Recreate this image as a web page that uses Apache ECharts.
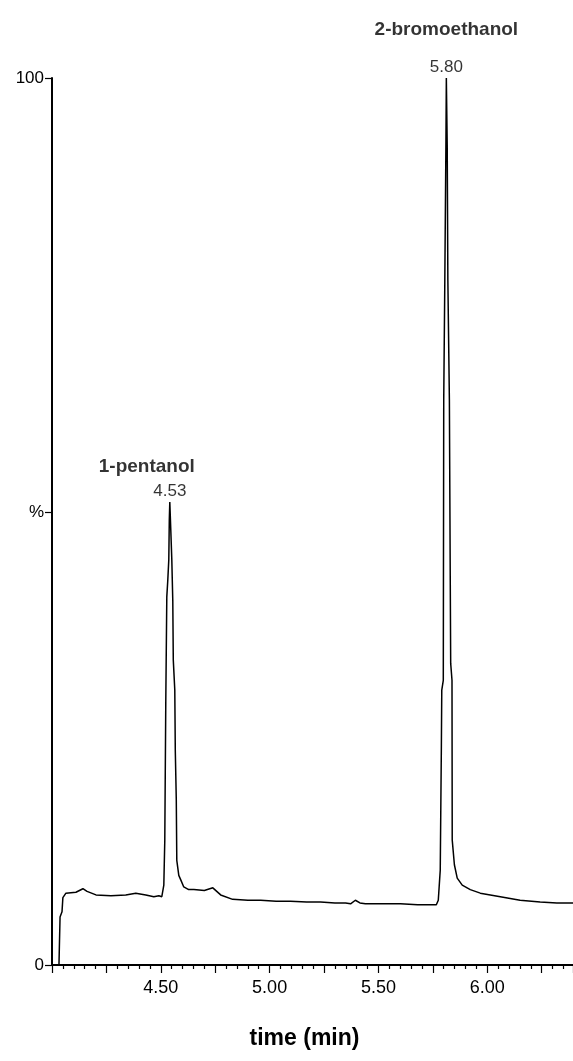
<!DOCTYPE html>
<html>
<head>
<meta charset="utf-8">
<script src="https://cdn.jsdelivr.net/npm/echarts@6/dist/echarts.min.js"></script>
<style>
html,body{margin:0;padding:0;background:#fff;}
#chart{width:573px;height:1061px;}
</style>
</head>
<body>
<div id="chart"></div>
<script>
// Retention time (min) and relative intensity (%) of the chromatogram trace
const times = [
  4.005, 4.032, 4.037, 4.046, 4.050, 4.064, 4.110, 4.142, 4.161, 4.202,
  4.271, 4.339, 4.385, 4.431, 4.468, 4.491, 4.5046, 4.5138, 4.5183, 4.5229,
  4.5275, 4.5321, 4.5367, 4.5390, 4.5413, 4.5459, 4.5505, 4.5550, 4.5573, 4.5642,
  4.5665, 4.5711, 4.5734, 4.5826, 4.5917, 4.6055, 4.6280, 4.652, 4.700, 4.739,
  4.775, 4.830, 4.900, 4.959, 5.030, 5.096, 5.170, 5.234, 5.300, 5.349,
  5.372, 5.394, 5.415, 5.440, 5.520, 5.601, 5.680, 5.739, 5.766, 5.775,
  5.784, 5.789, 5.791, 5.798, 5.800, 5.805, 5.810, 5.812, 5.813, 5.816,
  5.819, 5.826, 5.830, 5.832, 5.838, 5.839, 5.849, 5.862, 5.885, 5.922,
  5.968, 6.060, 6.151, 6.243, 6.320, 6.394
];
const intensity = [
  0.0, 0.0, 5.4, 6.0, 7.6, 8.1, 8.2, 8.6, 8.3, 7.9,
  7.8, 7.9, 8.1, 7.9, 7.7, 7.8, 7.7, 9.0, 14.1, 29.9,
  41.5, 43.4, 45.7, 50.2, 52.2, 49.0, 45.7, 41.1, 34.4, 31.0,
  24.2, 18.6, 11.8, 10.1, 9.6, 8.8, 8.5, 8.5, 8.4, 8.7,
  7.9, 7.4, 7.3, 7.3, 7.2, 7.2, 7.1, 7.1, 7.0, 7.0,
  6.9, 7.3, 7.0, 6.9, 6.9, 6.9, 6.8, 6.8, 6.8, 7.3,
  10.7, 24.2, 31.0, 32.1, 63.7, 77.2, 92.4, 100.0, 100.0, 92.4,
  77.2, 63.7, 43.4, 34.0, 32.1, 14.1, 11.3, 9.8, 9.0, 8.5,
  8.1, 7.7, 7.3, 7.1, 7.0, 7.0
];
// Peak annotations
const peakTimes = [4.5413, 5.812];
const peakValues = [52.2, 100.0];
const peakRT = ['4.53', '5.80'];
const peakNames = ['1-pentanol', '2-bromoethanol'];
// Axis labels
const xLabelValues = [4.5, 5.0, 5.5, 6.0];
const yLabelValues = [0, 51, 100];
const yLabelTexts = ['0', '%', '100'];

const trace = times.map((t, i) => [t, intensity[i]]);
const rtPoints = peakTimes.map((t, i) => ({value: [t, peakValues[i]], label: {formatter: peakRT[i]}}));
const nameOffsets = [[-23, -24], [0, -37]];
const namePoints = peakTimes.map((t, i) => ({
  value: [t, peakValues[i]],
  label: {formatter: peakNames[i], offset: nameOffsets[i]}
}));

const chart = echarts.init(document.getElementById('chart'), null, {renderer: 'canvas'});
const fontFam = '"Liberation Sans", Arial, sans-serif';
chart.setOption({
  animation: false,
  backgroundColor: '#ffffff',
  grid: {left: 52, right: 0, top: 78, bottom: 96, containLabel: false},
  xAxis: {
    type: 'value',
    min: 4.0,
    max: 6.394,
    interval: 0.25,
    name: 'time (min)',
    nameLocation: 'middle',
    nameGap: 62,
    nameTextStyle: {color: '#000', fontSize: 23, fontWeight: 'bold', fontFamily: fontFam, padding: [0, 16, 0, 0]},
    axisLine: {show: true, onZero: false, lineStyle: {color: '#000', width: 2}},
    axisTick: {show: true, length: 8, lineStyle: {color: '#000', width: 1.2}},
    minorTick: {show: true, splitNumber: 5, length: 4, lineStyle: {color: '#000', width: 1.2}},
    splitLine: {show: false},
    minorSplitLine: {show: false},
    axisLabel: {
      show: true,
      customValues: xLabelValues,
      formatter: v => v.toFixed(2),
      color: '#000', fontSize: 18, fontFamily: fontFam, margin: 14
    }
  },
  yAxis: {
    type: 'value',
    min: 0,
    max: 100,
    axisLine: {show: true, lineStyle: {color: '#000', width: 2}},
    axisTick: {show: true, length: 7, customValues: yLabelValues, lineStyle: {color: '#000', width: 1.2}},
    splitLine: {show: false},
    axisLabel: {
      show: true,
      customValues: yLabelValues,
      formatter: v => yLabelTexts[yLabelValues.indexOf(Math.round(v))] || '',
      color: '#000', fontSize: 17, fontFamily: fontFam, margin: 8
    }
  },
  series: [
    {
      type: 'line',
      data: trace,
      showSymbol: false,
      symbol: 'none',
      lineStyle: {color: '#000', width: 1.5},
      silent: true,
      z: 2
    },
    {
      type: 'scatter',
      data: rtPoints,
      symbolSize: 0,
      label: {show: true, position: 'top', distance: 2, color: '#000', fontSize: 17, fontFamily: fontFam},
      z: 3
    },
    {
      type: 'scatter',
      data: namePoints,
      symbolSize: 0,
      label: {show: true, position: 'top', distance: 2, color: '#000', fontSize: 19, fontWeight: 'bold', fontFamily: fontFam},
      z: 3
    }
  ]
});
</script>
</body>
</html>
